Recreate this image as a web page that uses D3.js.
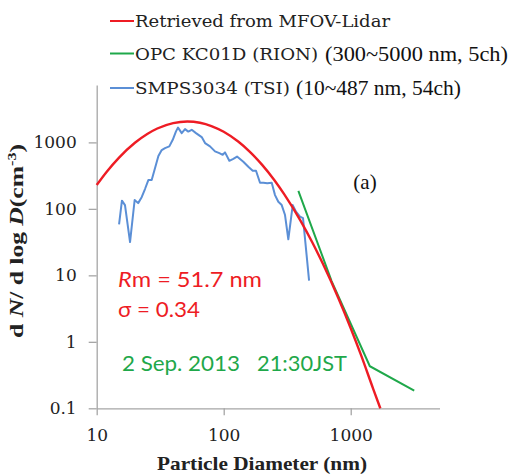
<!DOCTYPE html>
<html>
<head>
<meta charset="utf-8">
<script src="https://cdn.jsdelivr.net/npm/d3@7/dist/d3.min.js"></script>
<style>
  html, body { margin: 0; padding: 0; background: #fff; }
  svg { display: block; }
</style>
</head>
<body>
<div id="chart"></div>
<script>
// ---------------- data ----------------
const xTicks = [10, 100, 1000];
const yTicks = [0.1, 1, 10, 100, 1000];

// Retrieved from MFOV-Lidar (red)
const lidarD = [10, 12, 15, 20, 25, 30, 40, 51.7, 65, 80, 100, 130, 160, 200, 250, 300, 400, 500, 600, 800, 1000, 1200, 1500, 1710];
const lidarN = [228, 362, 591, 987, 1339, 1618, 1952, 2060, 1974, 1763, 1444, 1029, 727, 463, 272, 165, 67.7, 30.9, 15.3, 4.52, 1.6, 0.646, 0.198, 0.1];

// OPC KC01D (green)
const opcD = [387, 707, 1414, 3162];
const opcN = [187, 8.2, 0.43, 0.184];

// SMPS3034 (blue)
const smpsD = [15.0, 15.8, 16.7, 18.3, 19.9, 21.2, 22.6, 24.0, 25.5, 27.1, 28.8, 30.6, 32.5, 34.5, 37.3, 39.7, 42.1, 43.7, 46.7, 49.6, 52.6, 56.0, 60.5, 67.1, 71.3, 78.0, 85.4, 92.4, 98.2, 102.4, 110.7, 119.0, 127.3, 142.7, 156.2, 169.2, 179.6, 193.1, 205.1, 220.4, 238.8, 253.5, 269.1, 286.2, 303.9, 322.6, 349.4, 370.9, 398.9, 421.1, 470];
const smpsN = [58.5, 133, 114, 31.7, 136, 122, 150, 199, 271, 271, 411, 622, 766, 821, 871, 1094, 1464, 1670, 1380, 1585, 1453, 1547, 1380, 1202, 976, 871, 732, 690, 651, 708, 529, 567, 612, 511, 430, 374, 374, 247, 247, 242, 247, 161, 128, 114, 80.7, 34.8, 114, 90.5, 76.6, 72.7, 8.35];

const legendMain = ["Retrieved from MFOV-Lidar", "OPC KC01D (RION)", "SMPS3034 (TSI)"];
const legendExtra = ["", "(300~5000 nm, 5ch)", "(10~487 nm, 54ch)"];
const legendColors = ["#ee1c24", "#1fa84a", "#5b8fd6"];

// ---------------- chart ----------------
const W = 512, H = 476;
const svg = d3.select("#chart").append("svg")
  .attr("width", W).attr("height", H)
  .style("background", "#fff");

const x = d3.scaleLog().domain([10, 5000]).range([96.7, 439.5]);
const y = d3.scaleLog().domain([0.1, 7300]).range([408.3, 85]);

const axisColor = "#a6a6a6";
const serif = "'DejaVu Serif', serif";

// axes
const gx = svg.append("g").attr("transform", `translate(0,${y(0.1)})`)
  .call(d3.axisBottom(x).tickValues(xTicks).tickFormat(d => String(d))
    .tickSize(7).tickSizeOuter(0).tickPadding(14));
const gy = svg.append("g").attr("transform", `translate(${x(10)},0)`)
  .call(d3.axisLeft(y).tickValues(yTicks).tickFormat(d => String(d))
    .tickSize(8).tickSizeOuter(0).tickPadding(12));
[gx, gy].forEach(g => {
  g.select(".domain").attr("stroke", axisColor).attr("stroke-width", 1.3);
  g.selectAll(".tick line").attr("stroke", axisColor).attr("stroke-width", 1.3);
  g.selectAll(".tick text").attr("fill", "#222").style("font-family", serif).style("font-size", "17px");
});

// lines
const line = d3.line().x(d => x(d[0])).y(d => y(d[1]));

svg.append("path")
  .datum(smpsD.map((d, i) => [d, smpsN[i]]))
  .attr("d", line.curve(d3.curveLinear))
  .attr("fill", "none").attr("stroke", legendColors[2]).attr("stroke-width", 2)
  .attr("stroke-linejoin", "round");

svg.append("path")
  .datum(opcD.map((d, i) => [d, opcN[i]]))
  .attr("d", d3.line().x(d => x(d[0])).y(d => y(d[1])))
  .attr("fill", "none").attr("stroke", legendColors[1]).attr("stroke-width", 2);

svg.append("path")
  .datum(lidarD.map((d, i) => [d, lidarN[i]]))
  .attr("d", d3.line().x(d => x(d[0])).y(d => y(d[1])).curve(d3.curveMonotoneX))
  .attr("fill", "none").attr("stroke", legendColors[0]).attr("stroke-width", 2.4);

// legend
const rowsY = [21, 53.5, 88];
const baseY = [27, 59.5, 94];
const mainLen = [255, 183, 155];
const extraX = [0, 325, 296];
const extraLen = [0, 183, 165];
legendMain.forEach((t, i) => {
  svg.append("line").attr("x1", 110).attr("x2", 134)
    .attr("y1", rowsY[i]).attr("y2", rowsY[i])
    .attr("stroke", legendColors[i]).attr("stroke-width", 2);
  svg.append("text").attr("x", 135).attr("y", baseY[i])
    .attr("textLength", mainLen[i]).attr("lengthAdjust", "spacingAndGlyphs")
    .style("font-family", serif).style("font-size", "16px").attr("fill", "#222")
    .text(t);
  if (legendExtra[i]) {
    svg.append("text").attr("x", extraX[i]).attr("y", baseY[i] + 1)
      .attr("textLength", extraLen[i]).attr("lengthAdjust", "spacingAndGlyphs")
      .style("font-family", "'Liberation Serif', serif").style("font-size", "20px").attr("fill", "#111")
      .text(legendExtra[i]);
  }
});

// (a)
svg.append("text").attr("x", 365).attr("y", 189).attr("text-anchor", "middle")
  .style("font-family", "'Liberation Serif', serif").style("font-size", "21px").attr("fill", "#111")
  .text("(a)");

// annotations
const sans = "Lato, 'Open Sans', sans-serif";
const rm = svg.append("text").attr("x", 118).attr("y", 287)
  .attr("textLength", 144).attr("lengthAdjust", "spacingAndGlyphs")
  .style("font-family", sans).style("font-size", "21px").attr("fill", "#ee1c24");
rm.append("tspan").style("font-style", "italic").text("R");
rm.append("tspan").text("m = 51.7 nm");

svg.append("text").attr("x", 118).attr("y", 317)
  .attr("textLength", 82).attr("lengthAdjust", "spacingAndGlyphs")
  .style("font-family", sans).style("font-size", "21px").attr("fill", "#ee1c24")
  .text("σ = 0.34");

svg.append("text").attr("x", 122).attr("y", 371)
  .attr("textLength", 118).attr("lengthAdjust", "spacingAndGlyphs")
  .style("font-family", sans).style("font-size", "21px").attr("fill", "#1fa84a")
  .text("2 Sep. 2013");
svg.append("text").attr("x", 257).attr("y", 371)
  .attr("textLength", 90).attr("lengthAdjust", "spacingAndGlyphs")
  .style("font-family", sans).style("font-size", "21px").attr("fill", "#1fa84a")
  .text("21:30JST");

// axis titles
const yt = svg.append("text")
  .attr("transform", "translate(23,241) rotate(-90)")
  .attr("text-anchor", "middle")
  .attr("textLength", 194).attr("lengthAdjust", "spacingAndGlyphs")
  .style("font-family", "'Liberation Serif', serif").style("font-size", "19px")
  .style("font-weight", "bold").attr("fill", "#222");
yt.append("tspan").text("d ");
yt.append("tspan").style("font-style", "italic").text("N");
yt.append("tspan").text("/ d log ");
yt.append("tspan").style("font-style", "italic").text("D");
yt.append("tspan").text("(cm");
yt.append("tspan").attr("dy", -7).style("font-size", "12px").text("-3");
yt.append("tspan").attr("dy", 7).text(")");

svg.append("text").attr("x", 262).attr("y", 470).attr("text-anchor", "middle")
  .attr("textLength", 210).attr("lengthAdjust", "spacingAndGlyphs")
  .style("font-family", "'Liberation Serif', serif").style("font-size", "19px")
  .style("font-weight", "bold").attr("fill", "#222")
  .text("Particle Diameter (nm)");
</script>
</body>
</html>
